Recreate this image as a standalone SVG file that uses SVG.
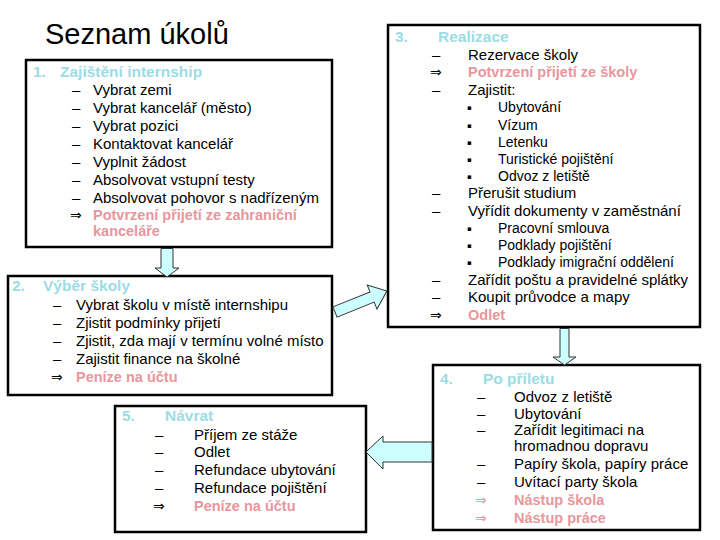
<svg xmlns="http://www.w3.org/2000/svg" width="720" height="540" viewBox="0 0 720 540">
<style>
text{font-family:"Liberation Sans",Arial,sans-serif;font-size:15px;fill:#000}
.title{font-size:29px}
.head{font-size:15.5px;font-weight:bold;fill:#9CDCE4}
.red{font-size:14.5px;font-weight:bold;fill:#E8969C}
.sub{font-size:14px}
.bul{font-family:"DejaVu Sans",sans-serif;font-size:7px}
.imp{font-family:"DejaVu Sans",sans-serif;font-size:14px}
.pink{fill:#E8969C}
.box{fill:#fff;stroke:#000;stroke-width:2.5}
.arr{fill:#CCFFFF;stroke:#333;stroke-width:1}
</style>
<rect width="720" height="540" fill="#fff"/>
<g id="title"><text class="title" x="45" y="44">Seznam úkolů</text></g>

<g id="node1">
<rect class="box" x="26" y="60" width="306" height="187"/>
<text class="head" x="33" y="77">1.</text><text class="head" x="60" y="77">Zajištění internship</text>
<text x="72" y="95">–</text><text x="93" y="95">Vybrat zemi</text>
<text x="72" y="113">–</text><text x="93" y="113">Vybrat kancelář (město)</text>
<text x="72" y="131">–</text><text x="93" y="131">Vybrat pozici</text>
<text x="72" y="149">–</text><text x="93" y="149">Kontaktovat kancelář</text>
<text x="72" y="167">–</text><text x="93" y="167">Vyplnit žádost</text>
<text x="72" y="185">–</text><text x="93" y="185">Absolvovat vstupní testy</text>
<text x="72" y="203">–</text><text x="93" y="203">Absolvovat pohovor s nadřízeným</text>
<text class="imp" x="70" y="220">⇒</text><text class="red" x="93" y="220">Potvrzení přijetí ze zahraniční</text>
<text class="red" x="93" y="236">kanceláře</text>
</g>

<g id="node2">
<rect class="box" x="8" y="276" width="324" height="119"/>
<text class="head" x="12" y="291">2.</text><text class="head" x="43" y="291">Výběr školy</text>
<text x="53" y="310">–</text><text x="76" y="310">Vybrat školu v místě internshipu</text>
<text x="53" y="328">–</text><text x="76" y="328">Zjistit podmínky přijetí</text>
<text x="53" y="346">–</text><text x="76" y="346">Zjistit, zda mají v termínu volné místo</text>
<text x="53" y="364">–</text><text x="76" y="364">Zajistit finance na školné</text>
<text class="imp" x="51" y="382">⇒</text><text class="red" x="76" y="382">Peníze na účtu</text>
</g>

<g id="node3">
<rect class="box" x="388" y="25" width="312" height="302"/>
<text class="head" x="395" y="42">3.</text><text class="head" x="438" y="42">Realizace</text>
<text x="432" y="60">–</text><text x="468" y="60">Rezervace školy</text>
<text class="imp" x="430" y="77">⇒</text><text class="red" x="468" y="77">Potvrzení přijetí ze školy</text>
<text x="432" y="95">–</text><text x="468" y="95">Zajistit:</text>
<text class="bul" x="467" y="110">▪</text><text class="sub" x="498" y="112">Ubytování</text>
<text class="bul" x="467" y="128">▪</text><text class="sub" x="498" y="130">Vízum</text>
<text class="bul" x="467" y="145">▪</text><text class="sub" x="498" y="147">Letenku</text>
<text class="bul" x="467" y="162">▪</text><text class="sub" x="498" y="164">Turistické pojištění</text>
<text class="bul" x="467" y="179">▪</text><text class="sub" x="498" y="181">Odvoz z letiště</text>
<text x="432" y="198">–</text><text x="468" y="198">Přerušit studium</text>
<text x="432" y="216">–</text><text x="468" y="216">Vyřídit dokumenty v zaměstnání</text>
<text class="bul" x="467" y="231">▪</text><text class="sub" x="498" y="233">Pracovní smlouva</text>
<text class="bul" x="467" y="248">▪</text><text class="sub" x="498" y="250">Podklady pojištění</text>
<text class="bul" x="467" y="265">▪</text><text class="sub" x="498" y="267">Podklady imigrační oddělení</text>
<text x="432" y="285">–</text><text x="468" y="285">Zařídit poštu a pravidelné splátky</text>
<text x="432" y="302">–</text><text x="468" y="302">Koupit průvodce a mapy</text>
<text class="imp" x="430" y="320">⇒</text><text class="red" x="468" y="320">Odlet</text>
</g>

<g id="node4">
<rect class="box" x="433" y="365" width="267" height="165"/>
<text class="head" x="440" y="384">4.</text><text class="head" x="483" y="384">Po příletu</text>
<text x="477" y="402">–</text><text x="514" y="402">Odvoz z letiště</text>
<text x="477" y="419">–</text><text x="514" y="419">Ubytování</text>
<text x="477" y="435">–</text><text x="514" y="435">Zařídit legitimaci na</text>
<text x="514" y="451">hromadnou dopravu</text>
<text x="477" y="469">–</text><text x="514" y="469">Papíry škola, papíry práce</text>
<text x="477" y="487">–</text><text x="514" y="487">Uvítací party škola</text>
<text class="imp pink" x="475" y="505">⇒</text><text class="red" x="514" y="505">Nástup škola</text>
<text class="imp pink" x="475" y="523">⇒</text><text class="red" x="514" y="523">Nástup práce</text>
</g>

<g id="node5">
<rect class="box" x="115" y="406" width="251" height="126"/>
<text class="head" x="122" y="421">5.</text><text class="head" x="165" y="421">Návrat</text>
<text x="155" y="440">–</text><text x="194" y="440">Příjem ze stáže</text>
<text x="155" y="457">–</text><text x="194" y="457">Odlet</text>
<text x="155" y="475">–</text><text x="194" y="475">Refundace ubytování</text>
<text x="155" y="493">–</text><text x="194" y="493">Refundace pojištění</text>
<text class="imp" x="153" y="511">⇒</text><text class="red" x="194" y="511">Peníze na účtu</text>
</g>

<g id="connectors">
<polygon class="arr" points="161,248.5 173,248.5 173,268 179,268 167,277 155,268 161,268"/>
<polygon class="arr" transform="translate(335,312) rotate(-22)" points="0,-5.5 40,-5.5 40,-13 56,0 40,13 40,5.5 0,5.5"/>
<polygon class="arr" points="560,328.5 569,328.5 569,357 576,357 564.5,365 553,357 560,357"/>
<polygon class="arr" points="432,442 383,442 383,436 366,452 383,469 383,462 432,462"/>
</g>
</svg>
